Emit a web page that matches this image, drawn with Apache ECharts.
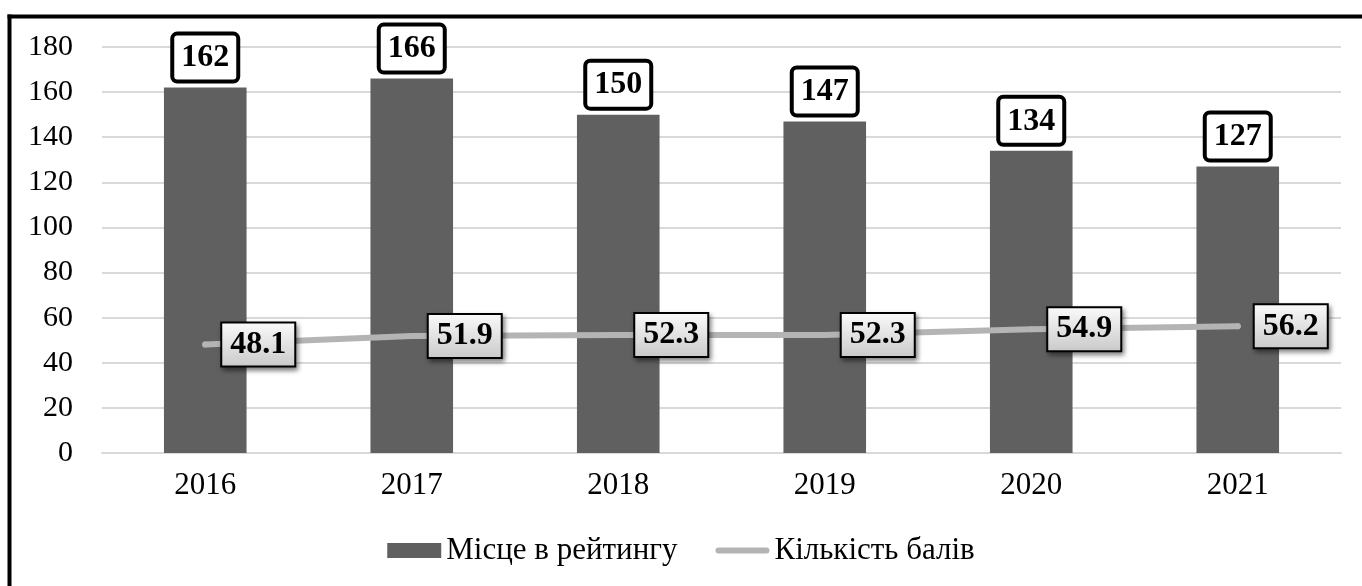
<!DOCTYPE html>
<html>
<head>
<meta charset="utf-8">
<script src="https://cdn.jsdelivr.net/npm/echarts@6/dist/echarts.min.js"></script>
<style>
  html, body { margin: 0; padding: 0; background: #fff; }
  #chart { width: 1362px; height: 586px; }
</style>
</head>
<body>
<div id="chart"></div>
<script>
var years = ['2016', '2017', '2018', '2019', '2020', '2021'];
var rankPlace = [162, 166, 150, 147, 134, 127];
var scorePoints = [48.1, 51.9, 52.3, 52.3, 54.9, 56.2];
var yTicks = { min: 0, max: 180, interval: 20 };

var serif = '"Liberation Serif", "Times New Roman", serif';

var myChart = echarts.init(document.getElementById('chart'));
var option = {
    animation: false,
    textStyle: { fontFamily: serif, color: '#000' },
    grid: { left: 102, right: 21, top: 47, bottom: 133 },
    graphic: [
        { type: 'rect', shape: { x: 7.5, y: 14.5, width: 1360, height: 4 }, style: { fill: '#000' } },
        { type: 'rect', shape: { x: 7.5, y: 14.5, width: 4, height: 580 }, style: { fill: '#000' } }
    ],
    legend: {
        bottom: 15,
        left: 'center',
        itemWidth: 54,
        itemHeight: 15,
        itemGap: 38,
        textStyle: { fontFamily: serif, fontSize: 31, color: '#000' },
        data: [
            { name: 'Місце в рейтингу', icon: 'rect' },
            {
                name: 'Кількість балів',
                icon: 'path://M3,0 L51,0 A3,3 0 0 1 51,6 L3,6 A3,3 0 0 1 3,0 Z',
                itemStyle: { color: '#b4b4b4' }
            }
        ]
    },
    xAxis: {
        type: 'category',
        data: years,
        axisTick: { show: false },
        axisLine: { lineStyle: { color: '#d9d9d9', width: 2 } },
        axisLabel: { fontFamily: serif, fontSize: 31, color: '#000', margin: 17 }
    },
    yAxis: {
        type: 'value',
        min: yTicks.min,
        max: yTicks.max,
        interval: yTicks.interval,
        axisLine: { show: false },
        axisTick: { show: false },
        splitLine: { lineStyle: { color: '#d9d9d9', width: 2 } },
        axisLabel: { fontFamily: serif, fontSize: 30, color: '#000', margin: 29 }
    },
    series: [
        {
            name: 'Місце в рейтингу',
            type: 'bar',
            data: rankPlace,
            barWidth: '40%',
            itemStyle: { color: '#606060' },
            label: {
                show: true,
                position: 'top',
                distance: 8,
                fontFamily: serif,
                fontSize: 32,
                fontWeight: 'bold',
                color: '#000',
                lineHeight: 33,
                backgroundColor: '#fff',
                borderColor: '#000',
                borderWidth: 4,
                borderRadius: 3,
                padding: [6, 7, 5, 7]
            }
        },
        {
            name: 'Кількість балів',
            type: 'line',
            data: scorePoints,
            symbol: 'circle',
            symbolSize: 6,
            itemStyle: { color: '#b4b4b4' },
            lineStyle: { color: '#b4b4b4', width: 6, cap: 'round' },
            label: {
                show: true,
                position: 'right',
                distance: 14,
                fontFamily: serif,
                fontSize: 32,
                fontWeight: 'bold',
                color: '#000',
                lineHeight: 33,
                backgroundColor: {
                    type: 'linear', x: 0, y: 0, x2: 0, y2: 1,
                    colorStops: [
                        { offset: 0, color: '#fbfbfb' },
                        { offset: 1, color: '#c9c9c9' }
                    ]
                },
                borderColor: '#000',
                borderWidth: 2,
                padding: [5, 8, 4, 8],
                shadowColor: 'rgba(0,0,0,0.45)',
                shadowBlur: 5,
                shadowOffsetX: 2,
                shadowOffsetY: 3
            }
        }
    ]
};
myChart.setOption(option);
</script>
</body>
</html>
